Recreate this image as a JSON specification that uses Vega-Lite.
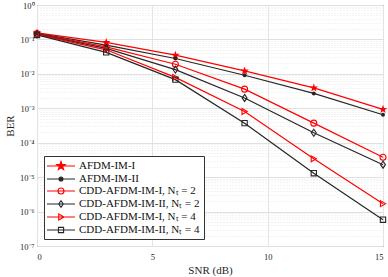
{
  "$schema": "https://vega.github.io/schema/vega-lite/v6.json",
  "width": 346,
  "height": 241,
  "autosize": "none",
  "padding": {"left": 37, "top": 5, "right": 5, "bottom": 31},
  "background": "white",
  "config": {
    "font": "Liberation Serif",
    "view": {"stroke": "#262626", "strokeWidth": 1},
    "axis": {"labelFont": "Liberation Serif", "titleFont": "Liberation Serif", "labelColor": "#262626", "titleColor": "#262626", "titleFontWeight": "normal"}
  },
  "data": {"values": [
    {"series": "AFDM-IM-I", "snr": 0, "ber": 0.155},
    {"series": "AFDM-IM-I", "snr": 3, "ber": 0.082},
    {"series": "AFDM-IM-I", "snr": 6, "ber": 0.035},
    {"series": "AFDM-IM-I", "snr": 9, "ber": 0.0122},
    {"series": "AFDM-IM-I", "snr": 12, "ber": 0.0039},
    {"series": "AFDM-IM-I", "snr": 15, "ber": 0.00093},
    {"series": "AFDM-IM-II", "snr": 0, "ber": 0.15},
    {"series": "AFDM-IM-II", "snr": 3, "ber": 0.068},
    {"series": "AFDM-IM-II", "snr": 6, "ber": 0.028},
    {"series": "AFDM-IM-II", "snr": 9, "ber": 0.0091},
    {"series": "AFDM-IM-II", "snr": 12, "ber": 0.0027},
    {"series": "AFDM-IM-II", "snr": 15, "ber": 0.00065},
    {"series": "CDD-AFDM-IM-I, Nₜ = 2", "snr": 0, "ber": 0.148},
    {"series": "CDD-AFDM-IM-I, Nₜ = 2", "snr": 3, "ber": 0.061},
    {"series": "CDD-AFDM-IM-I, Nₜ = 2", "snr": 6, "ber": 0.019},
    {"series": "CDD-AFDM-IM-I, Nₜ = 2", "snr": 9, "ber": 0.0036},
    {"series": "CDD-AFDM-IM-I, Nₜ = 2", "snr": 12, "ber": 0.00037},
    {"series": "CDD-AFDM-IM-I, Nₜ = 2", "snr": 15, "ber": 0.000038},
    {"series": "CDD-AFDM-IM-II, Nₜ = 2", "snr": 0, "ber": 0.142},
    {"series": "CDD-AFDM-IM-II, Nₜ = 2", "snr": 3, "ber": 0.055},
    {"series": "CDD-AFDM-IM-II, Nₜ = 2", "snr": 6, "ber": 0.0133},
    {"series": "CDD-AFDM-IM-II, Nₜ = 2", "snr": 9, "ber": 0.002},
    {"series": "CDD-AFDM-IM-II, Nₜ = 2", "snr": 12, "ber": 0.000195},
    {"series": "CDD-AFDM-IM-II, Nₜ = 2", "snr": 15, "ber": 0.000023},
    {"series": "CDD-AFDM-IM-I, Nₜ = 4", "snr": 0, "ber": 0.14},
    {"series": "CDD-AFDM-IM-I, Nₜ = 4", "snr": 3, "ber": 0.05},
    {"series": "CDD-AFDM-IM-I, Nₜ = 4", "snr": 6, "ber": 0.0079},
    {"series": "CDD-AFDM-IM-I, Nₜ = 4", "snr": 9, "ber": 0.00081},
    {"series": "CDD-AFDM-IM-I, Nₜ = 4", "snr": 12, "ber": 0.000034},
    {"series": "CDD-AFDM-IM-I, Nₜ = 4", "snr": 15, "ber": 0.0000017},
    {"series": "CDD-AFDM-IM-II, Nₜ = 4", "snr": 0, "ber": 0.135},
    {"series": "CDD-AFDM-IM-II, Nₜ = 4", "snr": 3, "ber": 0.042},
    {"series": "CDD-AFDM-IM-II, Nₜ = 4", "snr": 6, "ber": 0.0068},
    {"series": "CDD-AFDM-IM-II, Nₜ = 4", "snr": 9, "ber": 0.00037},
    {"series": "CDD-AFDM-IM-II, Nₜ = 4", "snr": 12, "ber": 0.000013},
    {"series": "CDD-AFDM-IM-II, Nₜ = 4", "snr": 15, "ber": 0.00000058}
  ]},
  "encoding": {
    "x": {"field": "snr", "type": "quantitative", "scale": {"domain": [0, 15], "nice": false},
      "axis": {"values": [0, 5, 10, 15], "title": "SNR (dB)", "titleFontSize": 11, "titlePadding": 4, "labelFontSize": 8.5, "ticks": false, "labelPadding": 6, "grid": true, "gridColor": "#e3e3e3", "domain": false}},
    "y": {"field": "ber", "type": "quantitative", "scale": {"type": "log", "domain": [1e-7, 1], "nice": false},
      "axis": {"values": [1e-7, 2e-7, 3e-7, 4e-7, 5e-7, 6e-7, 7e-7, 8e-7, 9e-7, 1e-6, 2e-6, 3e-6, 4e-6, 5e-6, 6e-6, 7e-6, 8e-6, 9e-6, 1e-5, 2e-5, 3e-5, 4e-5, 5e-5, 6e-5, 7e-5, 8e-5, 9e-5, 1e-4, 2e-4, 3e-4, 4e-4, 5e-4, 6e-4, 7e-4, 8e-4, 9e-4, 1e-3, 2e-3, 3e-3, 4e-3, 5e-3, 6e-3, 7e-3, 8e-3, 9e-3, 1e-2, 2e-2, 3e-2, 4e-2, 5e-2, 6e-2, 7e-2, 8e-2, 9e-2, 0.1, 0.2, 0.3, 0.4, 0.5, 0.6, 0.7, 0.8, 0.9, 1],
        "title": "BER", "titleFontSize": 11, "titlePadding": 4, "labelFontSize": 8.5, "ticks": false, "labelPadding": 3, "grid": true, "domain": false, "labelOverlap": false,
        "gridColor": {"condition": {"test": "abs(log(datum.value)/LN10 - round(log(datum.value)/LN10)) > 0.01", "value": "#e8e8e8"}, "value": "#e0e0e0"},
        "gridDash": {"condition": {"test": "abs(log(datum.value)/LN10 - round(log(datum.value)/LN10)) > 0.01", "value": [1, 2]}, "value": []},
        "labelExpr": "abs(log(datum.value)/LN10 - round(log(datum.value)/LN10)) > 0.01 ? '' : '10' + (round(log(datum.value)/LN10) == 0 ? '⁰' : '⁻' + ['', '¹', '²', '³', '⁴', '⁵', '⁶', '⁷'][-round(log(datum.value)/LN10)])"}},
    "color": {"field": "series", "type": "nominal",
      "scale": {"domain": ["AFDM-IM-I", "AFDM-IM-II", "CDD-AFDM-IM-I, Nₜ = 2", "CDD-AFDM-IM-II, Nₜ = 2", "CDD-AFDM-IM-I, Nₜ = 4", "CDD-AFDM-IM-II, Nₜ = 4"],
        "range": ["#ff0000", "#262626", "#ff0000", "#262626", "#ff0000", "#262626"]},
      "legend": null}
  },
  "layer": [
    {
      "mark": {"type": "line", "strokeWidth": 1.2},
      "encoding": {
        "color": {"field": "series", "type": "nominal",
          "legend": {
            "title": null, "orient": "bottom-left", "offset": 7,
            "labelFont": "Liberation Serif", "labelFontSize": 11, "labelColor": "#111",
            "symbolSize": 100, "symbolStrokeWidth": 1.1, "symbolOffset": 7, "rowPadding": 1, "labelOffset": 12,
            "padding": 4, "strokeColor": "#333", "fillColor": "white",
            "encode": {"symbols": {"update": {
              "shape": {"signal": "datum.value === 'AFDM-IM-I' ? 'M-2.8,0L2.8,0M0,-0.9L0.212,-0.291L0.856,-0.278L0.342,0.111L0.529,0.728L0,0.36L-0.529,0.728L-0.342,0.111L-0.856,-0.278L-0.212,-0.291Z' : datum.value === 'AFDM-IM-II' ? 'M-2.8,0L2.8,0M0.4,0A0.4,0.4,0,1,1,-0.4,0A0.4,0.4,0,1,1,0.4,0Z' : datum.value === 'CDD-AFDM-IM-I, Nₜ = 2' ? 'M-2.8,0L2.8,0M0.6,0A0.6,0.6,0,1,1,-0.6,0A0.6,0.6,0,1,1,0.6,0Z' : datum.value === 'CDD-AFDM-IM-II, Nₜ = 2' ? 'M-2.8,0L2.8,0M0,-0.66L0.46,0L0,0.66L-0.46,0Z' : datum.value === 'CDD-AFDM-IM-I, Nₜ = 4' ? 'M-2.8,0L2.8,0M-0.45,-0.6L0.6,0L-0.45,0.6Z' : 'M-2.8,0L2.8,0M-0.52,-0.52L0.52,-0.52L0.52,0.52L-0.52,0.52Z'"},
              "fill": {"signal": "datum.value === 'AFDM-IM-I' ? '#ff0000' : datum.value === 'AFDM-IM-II' ? '#262626' : 'transparent'"},
              "fillOpacity": {"signal": "datum.value === 'AFDM-IM-I' || datum.value === 'AFDM-IM-II' ? 1 : 0"},
              "strokeWidth": {"value": 1.1}
            }}}
          }}
      }
    },
    {
      "transform": [{"filter": "datum.series === 'AFDM-IM-I'"}],
      "mark": {"type": "point", "filled": true, "opacity": 1, "shape": "M0,-1L0.235,-0.324L0.951,-0.309L0.38,0.124L0.588,0.809L0,0.4L-0.588,0.809L-0.38,0.124L-0.951,-0.309L-0.235,-0.324Z", "size": 81}
    },
    {
      "transform": [{"filter": "datum.series === 'AFDM-IM-II'"}],
      "mark": {"type": "point", "filled": true, "opacity": 1, "shape": "circle", "size": 16}
    },
    {
      "transform": [{"filter": "datum.series === 'CDD-AFDM-IM-I, Nₜ = 2'"}],
      "mark": {"type": "point", "filled": false, "opacity": 1, "shape": "circle", "size": 36, "strokeWidth": 1.1}
    },
    {
      "transform": [{"filter": "datum.series === 'CDD-AFDM-IM-II, Nₜ = 2'"}],
      "mark": {"type": "point", "filled": false, "opacity": 1, "shape": "M0,-1L0.7,0L0,1L-0.7,0Z", "size": 49, "strokeWidth": 1.1}
    },
    {
      "transform": [{"filter": "datum.series === 'CDD-AFDM-IM-I, Nₜ = 4'"}],
      "mark": {"type": "point", "filled": false, "opacity": 1, "shape": "triangle-right", "size": 36, "strokeWidth": 1.1}
    },
    {
      "transform": [{"filter": "datum.series === 'CDD-AFDM-IM-II, Nₜ = 4'"}],
      "mark": {"type": "point", "filled": false, "opacity": 1, "shape": "square", "size": 28, "strokeWidth": 1.1}
    }
  ]
}
